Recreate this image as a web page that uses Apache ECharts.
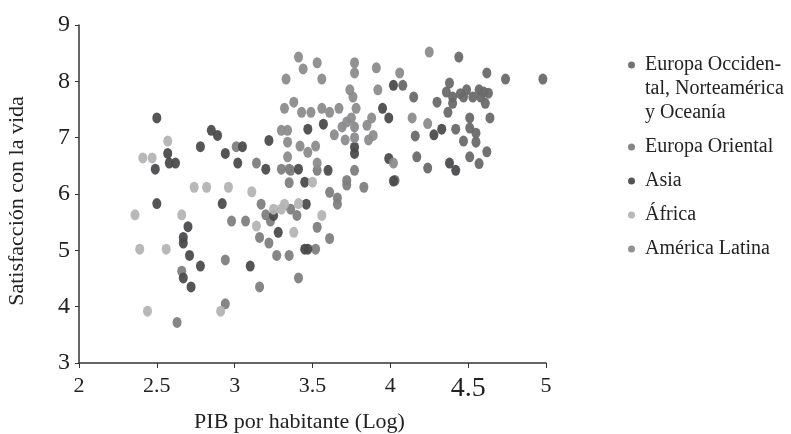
<!DOCTYPE html>
<html>
<head>
<meta charset="utf-8">
<script src="https://cdn.jsdelivr.net/npm/echarts@6/dist/echarts.min.js"></script>
<style>
  html, body { margin: 0; padding: 0; background: #fff; }
  #chartOne { width: 791px; height: 434px; }
</style>
</head>
<body>
<div id="chartOne"></div>
<script>
// nombres de las series
const seriesNames = ['Europa Occidental, Norteamérica y Oceanía', 'Europa Oriental', 'Asia', 'África', 'América Latina'];
const xTickLabels = ['2', '2.5', '3', '3.5', '4', '4.5', '5'];
const yTickLabels = ['3', '4', '5', '6', '7', '8', '9'];

// [PIB log, satisfacción]
const europaOccidental = [
  [4.44, 8.43], [4.62, 8.15], [4.74, 8.04], [4.98, 8.04], [4.08, 7.93], [4.15, 7.72],
  [4.30, 7.63], [4.38, 7.97], [4.36, 7.81], [4.40, 7.72], [4.45, 7.78], [4.49, 7.85],
  [4.53, 7.72], [4.57, 7.85], [4.60, 7.81], [4.63, 7.79], [4.61, 7.61], [4.37, 7.45],
  [4.40, 7.61], [4.64, 7.35], [4.51, 7.35], [4.42, 7.15], [4.51, 7.17], [4.55, 7.08],
  [4.55, 6.92], [4.47, 6.94], [4.16, 7.03], [4.62, 6.75], [4.51, 6.66], [4.57, 6.54],
  [4.24, 6.46], [4.17, 6.66], [4.03, 6.24], [4.47, 7.72], [4.58, 7.72]
];
const europaOriental = [
  [2.66, 4.63], [2.63, 3.72], [2.98, 5.52], [2.94, 4.83], [2.94, 4.05], [3.07, 5.52],
  [3.16, 4.35], [3.17, 5.82], [3.16, 5.23], [3.20, 5.63], [3.23, 5.52], [3.22, 5.13],
  [3.27, 4.91], [3.35, 4.91], [3.36, 5.73], [3.40, 5.62], [3.41, 4.51], [3.35, 6.20],
  [3.61, 6.03], [3.66, 5.93], [3.66, 5.82], [3.72, 6.16], [3.83, 6.12], [3.53, 5.41],
  [3.61, 5.21], [3.52, 5.02], [3.30, 6.44], [3.35, 6.44], [3.36, 6.42], [3.53, 6.42],
  [3.77, 6.42], [3.72, 6.24], [3.14, 6.55], [3.01, 6.84]
];
const asia = [
  [2.50, 7.35], [2.49, 6.44], [2.57, 6.72], [2.58, 6.55], [2.62, 6.55], [2.78, 6.84],
  [2.85, 7.13], [2.89, 7.04], [2.94, 6.72], [3.05, 6.84], [3.02, 6.55], [3.20, 6.44],
  [3.22, 6.95], [2.50, 5.83], [2.70, 5.42], [2.67, 5.23], [2.67, 5.13], [2.71, 4.91],
  [2.78, 4.72], [2.67, 4.51], [2.72, 4.35], [2.92, 5.83], [3.10, 4.72], [3.25, 5.62],
  [3.28, 5.32], [3.45, 5.02], [3.47, 5.02], [3.46, 5.82], [3.45, 6.21], [3.41, 6.44],
  [3.47, 7.15], [3.57, 7.24], [3.77, 6.83], [3.77, 6.72], [3.60, 6.42], [3.99, 6.63],
  [4.02, 6.23], [3.95, 7.52], [3.99, 7.35], [4.02, 7.93], [4.33, 7.15], [4.28, 7.05],
  [4.38, 6.55], [4.42, 6.42]
];
const africa = [
  [2.57, 6.94], [2.41, 6.64], [2.47, 6.64], [2.74, 6.12], [2.82, 6.12], [2.96, 6.12],
  [3.11, 6.04], [2.36, 5.63], [2.39, 5.02], [2.56, 5.02], [2.66, 5.63], [2.44, 3.92],
  [2.91, 3.92], [3.14, 5.43], [3.25, 5.73], [3.30, 5.73], [3.38, 5.32], [3.41, 5.83],
  [3.50, 6.21], [3.56, 5.62], [3.32, 5.82]
];
const americaLatina = [
  [3.41, 8.43], [3.44, 8.22], [3.53, 8.33], [3.33, 8.04], [3.56, 8.04], [3.77, 8.33],
  [3.77, 8.15], [3.91, 8.24], [4.06, 8.15], [4.25, 8.52], [3.92, 7.85], [3.74, 7.85],
  [3.76, 7.72], [3.38, 7.63], [3.32, 7.52], [3.43, 7.45], [3.49, 7.45], [3.56, 7.52],
  [3.61, 7.45], [3.67, 7.52], [3.78, 7.52], [3.88, 7.35], [3.85, 7.22], [3.72, 7.28],
  [3.75, 7.35], [3.69, 7.19], [3.77, 7.19], [3.64, 7.05], [3.71, 6.96], [3.77, 7.00],
  [3.30, 7.13], [3.34, 7.13], [3.34, 6.92], [3.34, 6.66], [3.42, 6.85], [3.52, 6.85],
  [3.47, 6.74], [3.53, 6.55], [3.86, 6.96], [3.89, 7.04], [4.14, 7.35], [4.24, 7.25],
  [4.02, 6.55]
];

const colors = ['#6a6a6c', '#7f7f81', '#4c4c4e', '#b4b4b6', '#8c8c8e'];
const font = '"Liberation Serif", "Times New Roman", serif';

let myChart = echarts.init(document.getElementById('chartOne'));

function scatter(i, data) {
  return {
    name: seriesNames[i],
    type: 'scatter',
    data: data,
    symbol: 'circle',
    symbolSize: [9, 11],
    itemStyle: { color: colors[i], opacity: 0.95 }
  };
}

myChart.setOption({
  animation: false,
  color: colors,
  grid: { left: 79, right: 245, top: 25, bottom: 71, outerBoundsMode: 'none' },
  legend: {
    orient: 'vertical',
    left: 623,
    top: 0,
    itemGap: 10,
    itemWidth: 7,
    itemHeight: 9,
    icon: 'circle',
    data: seriesNames,
    formatter: function (name) {
      // salto de línea como en el original
      if (name === seriesNames[0]) return '\n\nEuropa Occiden-\ntal, Norteamérica\ny Oceanía';
      return name;
    },
    textStyle: { fontFamily: font, fontSize: 20, lineHeight: 24, color: '#222', padding: [0, 0, 0, 5] }
  },
  xAxis: {
    type: 'value',
    min: 2,
    max: 5,
    interval: 0.5,
    name: 'PIB por habitante (Log)',
    nameLocation: 'middle',
    nameGap: 48,
    nameTextStyle: { fontFamily: font, fontSize: 22, color: '#222', padding: [0, 26, 0, 0] },
    axisLine: { lineStyle: { color: '#333', width: 1.5 } },
    axisTick: { length: 5, lineStyle: { color: '#333' } },
    splitLine: { show: false },
    axisLabel: {
      margin: 12,
      fontFamily: font,
      fontSize: 22,
      color: '#222',
      formatter: function (v) {
        let s = xTickLabels[Math.round((v - 2) / 0.5)];
        return s === '4.5' ? '{big|' + s + '}' : s;
      },
      rich: { big: { fontFamily: font, fontSize: 28, color: '#222' } }
    }
  },
  yAxis: {
    type: 'value',
    min: 3,
    max: 9,
    interval: 1,
    name: 'Satisfacción con la vida',
    nameLocation: 'middle',
    nameGap: 51,
    nameTextStyle: { fontFamily: font, fontSize: 22, color: '#222', padding: [0, 14, 0, 0] },
    axisLine: { show: true, lineStyle: { color: '#333', width: 1.5 } },
    axisTick: { show: true, length: 4, lineStyle: { color: '#333' } },
    splitLine: { show: false },
    axisLabel: {
      margin: 9,
      fontFamily: font,
      fontSize: 24,
      color: '#222',
      formatter: function (v) { return yTickLabels[v - 3]; }
    }
  },
  series: [
    scatter(0, europaOccidental),
    scatter(1, europaOriental),
    scatter(2, asia),
    scatter(3, africa),
    scatter(4, americaLatina)
  ]
});
</script>
</body>
</html>
